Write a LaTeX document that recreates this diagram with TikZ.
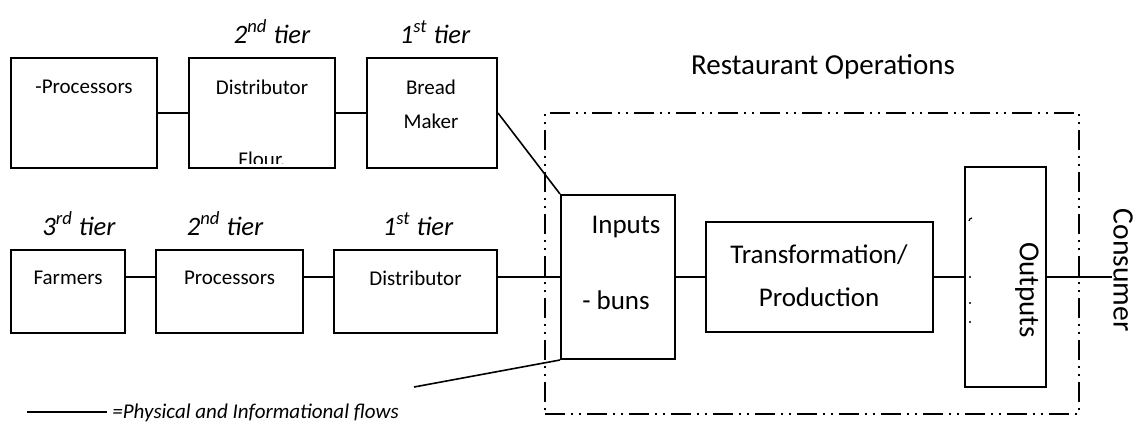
\documentclass[tikz,border=0pt]{standalone}
\usepackage{fontspec}
\setmainfont{Carlito}
\begin{document}
\begin{tikzpicture}[x=0.5pt,y=-0.5pt,
  box/.style={draw, line width=1pt, inner sep=0pt, minimum width=#1},
  txt/.style={inner sep=0pt, font=\fontsize{10.5}{12}\selectfont},
  bigtxt/.style={inner sep=0pt, font=\fontsize{13.5}{16}\selectfont},
  tiertxt/.style={inner sep=0pt, anchor=base, font=\fontsize{13.3}{16}\selectfont\itshape},
  flow/.style={line width=0.8pt},
  dashdotdot/.style={line width=0.8pt, dash pattern=on 10pt off 3pt on 1pt off 3pt on 1pt off 3pt}]
\useasboundingbox (0,0) rectangle (1134,424);

% top row
\node[box=73pt, minimum height=55pt] (tp1) at (84,113) {};
\node[box=73pt, minimum height=55pt] (tp2) at (262,113) {};
\node[box=65pt, minimum height=55pt] (tp3) at (432,113) {};
\node[txt] (tp1t) at (84,87) {-Processors};
\node[txt] (tp2t) at (262,87) {Distributor};
\begin{scope}
  \clip (190,59) rectangle (334,163);
  \node[txt, anchor=base] (tp2f) at (262,166.5) {Flour.};
\end{scope}
\node[txt] (tp3a) at (431,87) {Bread};
\node[txt] (tp3b) at (431,121) {Maker};
\node[tiertxt] (tt2) at (272,43) {2\textsuperscript{nd} tier};
\node[tiertxt] (tt1) at (435,43) {1\textsuperscript{st} tier};

% bottom row
\node[box=57pt, minimum height=41.5pt] (b1) at (68,291.5) {};
\node[box=73.5pt, minimum height=41.5pt] (b2) at (229.5,291.5) {};
\node[box=81.5pt, minimum height=41.5pt] (b3) at (415.5,291.5) {};
\node[txt] (b1t) at (68,278) {Farmers};
\node[txt] (b2t) at (229.5,278) {Processors};
\node[txt] (b3t) at (415.5,278) {Distributor};
\node[tiertxt] (bt3) at (79,235) {3\textsuperscript{rd} tier};
\node[tiertxt] (bt2) at (225,235) {2\textsuperscript{nd} tier};
\node[tiertxt] (bt1) at (418,235) {1\textsuperscript{st} tier};

% restaurant operations
\node[draw, dashdotdot, inner sep=0pt, minimum width=267pt, minimum height=150.5pt] (rest) at (812,263.5) {};
\node[inner sep=0pt, font=\fontsize{14.5}{17}\selectfont] (restt) at (823,67) {Restaurant Operations};
\node[box=57pt, minimum height=82pt] (inp) at (618,277) {};
\node[bigtxt] (inpa) at (626,227) {Inputs};
\node[bigtxt] (inpb) at (616,300) {- buns};
\node[box=113.5pt, minimum height=55pt] (trans) at (819.5,277) {};
\node[bigtxt] (transa) at (819,255) {Transformation/};
\node[bigtxt] (transb) at (819,297) {Production};
\node[box=40.5pt, minimum height=110pt] (outp) at (1005.5,277) {};
\node[inner sep=0pt, rotate=-90, font=\fontsize{14.5}{17}\selectfont] (outpt) at (1027,290) {Outputs};
\node[inner sep=0pt, rotate=-90, font=\fontsize{14.8}{17}\selectfont] (cons) at (1123,270) {Consumer};
\coordinate (consend) at (1112,277);
\fill (970,277) circle (1.1);
\fill (970,303) circle (1.1);
\fill (970,322) circle (1.1);
\draw[line width=0.6pt] (969,221) arc (180:270:3);

% connectors
\draw[flow] (tp1.east) -- (tp2.west);
\draw[flow] (tp2.east) -- (tp3.west);
\draw[flow] (tp3.east) -- (inp.north west);
\draw[flow] ([yshift=7.25pt]b1.east) -- ([yshift=7.25pt]b2.west);
\draw[flow] ([yshift=7.25pt]b2.east) -- ([yshift=7.25pt]b3.west);
\draw[flow] ([yshift=7.25pt]b3.east) -- (inp.west);
\draw[flow] (inp.east) -- (trans.west);
\draw[flow] (trans.east) -- (outp.west);
\draw[flow] (outp.east) -- (consend);
\coordinate (legfree) at (414,387);
\draw[flow] (legfree) -- (inp.south west);

% legend
\coordinate (lega) at (27,412);
\coordinate (legb) at (107,412);
\draw[flow] (lega) -- (legb);
\node[inner sep=0pt, anchor=west, font=\fontsize{10.5}{12}\selectfont\itshape] (legt) at (112,413) {=Physical and Informational flows};
\end{tikzpicture}
\end{document}
